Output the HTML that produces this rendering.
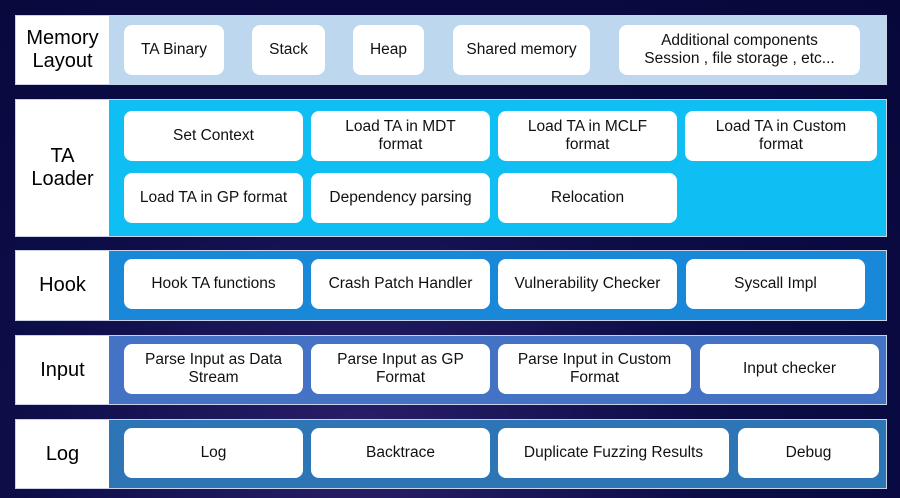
<!DOCTYPE html><html><head><style>
body{margin:0;width:900px;height:498px;background:radial-gradient(ellipse at 40% 90%,#2a1f6a 0%,#0d0d48 45%,#07073a 100%);position:relative;overflow:hidden;font-family:"Liberation Sans",sans-serif}
.r{position:absolute;left:15px;width:872px;border:1px solid #c9d3e6;box-sizing:border-box}
.l{position:absolute;left:0;top:0;bottom:0;width:93px;background:#fff;display:flex;align-items:center;justify-content:center;text-align:center;font-size:20px;line-height:23px;color:#000}
.c{position:absolute;left:93px;top:0;bottom:0;right:0}
.b{position:absolute;background:#fff;border-radius:8px;display:flex;align-items:center;justify-content:center;text-align:center;font-size:15.5px;line-height:18px;color:#111}
</style></head><body>
<div class="r" style="top:15px;height:70px"><div class="l">Memory<br>Layout</div><div class="c" style="background:#bdd7ee"></div></div>
<div class="r" style="top:99px;height:138px"><div class="l">TA<br>Loader</div><div class="c" style="background:#0fbef2"></div></div>
<div class="r" style="top:250px;height:71px"><div class="l">Hook</div><div class="c" style="background:#1a88d8"></div></div>
<div class="r" style="top:335px;height:70px"><div class="l">Input</div><div class="c" style="background:#4472c4"></div></div>
<div class="r" style="top:419px;height:70px"><div class="l">Log</div><div class="c" style="background:#2e75b6"></div></div>

<div class="b" style="left:124px;top:25px;width:100px;height:50px">TA Binary</div>
<div class="b" style="left:252px;top:25px;width:73px;height:50px">Stack</div>
<div class="b" style="left:353px;top:25px;width:71px;height:50px">Heap</div>
<div class="b" style="left:453px;top:25px;width:137px;height:50px">Shared memory</div>
<div class="b" style="left:619px;top:25px;width:241px;height:50px">Additional components<br>Session , file storage , etc...</div>

<div class="b" style="left:124px;top:111px;width:179px;height:50px">Set Context</div>
<div class="b" style="left:311px;top:111px;width:179px;height:50px">Load TA in MDT<br>format</div>
<div class="b" style="left:498px;top:111px;width:179px;height:50px">Load TA in MCLF<br>format</div>
<div class="b" style="left:685px;top:111px;width:192px;height:50px">Load TA in Custom<br>format</div>
<div class="b" style="left:124px;top:173px;width:179px;height:50px">Load TA in GP format</div>
<div class="b" style="left:311px;top:173px;width:179px;height:50px">Dependency parsing</div>
<div class="b" style="left:498px;top:173px;width:179px;height:50px">Relocation</div>

<div class="b" style="left:124px;top:259px;width:179px;height:50px">Hook TA functions</div>
<div class="b" style="left:311px;top:259px;width:179px;height:50px">Crash Patch Handler</div>
<div class="b" style="left:498px;top:259px;width:179px;height:50px">Vulnerability Checker</div>
<div class="b" style="left:686px;top:259px;width:179px;height:50px">Syscall Impl</div>

<div class="b" style="left:124px;top:344px;width:179px;height:50px">Parse Input as Data<br>Stream</div>
<div class="b" style="left:311px;top:344px;width:179px;height:50px">Parse Input as GP<br>Format</div>
<div class="b" style="left:498px;top:344px;width:193px;height:50px">Parse Input in Custom<br>Format</div>
<div class="b" style="left:700px;top:344px;width:179px;height:50px">Input checker</div>

<div class="b" style="left:124px;top:428px;width:179px;height:50px">Log</div>
<div class="b" style="left:311px;top:428px;width:179px;height:50px">Backtrace</div>
<div class="b" style="left:498px;top:428px;width:231px;height:50px">Duplicate Fuzzing Results</div>
<div class="b" style="left:738px;top:428px;width:141px;height:50px">Debug</div>
</body></html>
